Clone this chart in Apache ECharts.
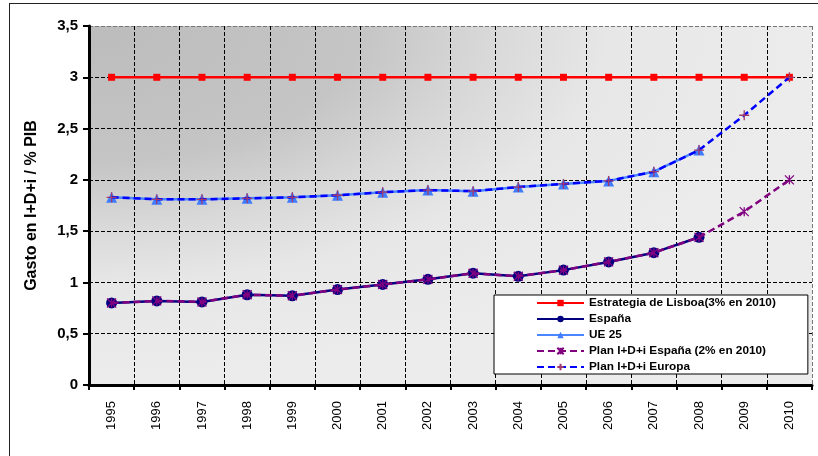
<!DOCTYPE html>
<html>
<head>
<meta charset="utf-8">
<script src="https://cdn.jsdelivr.net/npm/echarts@6/dist/echarts.min.js"></script>
<style>
  html, body { margin: 0; padding: 0; background: #fff; }
  #wrap { position: relative; width: 818px; height: 456px; overflow: hidden; }
  #frame { position: absolute; left: 9px; top: 3px; width: 900px; height: 600px;
           border-left: 1.5px solid #222; border-top: 1.5px solid #222; }
  #plotbg { position: absolute; left: 89px; top: 26px; width: 723px; height: 359px;
            background: radial-gradient(ellipse 100% 100% at 0 0, #bcbcbc 0%, #c5c5c5 38%, #d8d8d8 55%, #e7e7e7 72%, #ececec 100%); }
  #chart { position: absolute; left: 0; top: 0; width: 818px; height: 456px; }
</style>
</head>
<body>
<div id="wrap">
  <div id="frame"></div>
  <div id="plotbg"></div>
  <div id="chart"></div>
</div>
<script>
// Gasto en I+D+i como % del PIB, 1995-2010
const years = ['1995','1996','1997','1998','1999','2000','2001','2002','2003','2004','2005','2006','2007','2008','2009','2010'];

const lisboa      = [3, 3, 3, 3, 3, 3, 3, 3, 3, 3, 3, 3, 3, 3, 3, 3];
const espana      = [0.80, 0.82, 0.81, 0.88, 0.87, 0.93, 0.98, 1.03, 1.09, 1.06, 1.12, 1.20, 1.29, 1.44, null, null];
const ue25        = [1.83, 1.81, 1.81, 1.82, 1.83, 1.85, 1.88, 1.90, 1.89, 1.93, 1.96, 1.99, 2.08, 2.29, null, null];
const planEspana  = [0.80, 0.82, 0.81, 0.88, 0.87, 0.93, 0.98, 1.03, 1.09, 1.06, 1.12, 1.20, 1.29, 1.44, 1.69, 2.00];
const planEuropa  = [1.83, 1.81, 1.81, 1.82, 1.83, 1.85, 1.88, 1.90, 1.89, 1.93, 1.96, 1.99, 2.08, 2.29, 2.63, 3.00];

const names = {
  lisboa: 'Estrategia de Lisboa(3% en 2010)',
  espana: 'España',
  ue25: 'UE 25',
  planEspana: 'Plan I+D+i España (2% en 2010)',
  planEuropa: 'Plan I+D+i Europa'
};

const FONT = 'Liberation Sans, Arial, sans-serif';
const starPath = 'path://M5,0L5,10M0,0L10,10M0,10L10,0';
const plusPath = 'path://M5,0L5,10M0,5L10,5';

// grid lines: black dashed, outer edge of the plot area in grey
const ySplitColors = ['#000','#000','#000','#000','#000','#000','#000','#777'];
const xSplitColors = [];
for (let i = 0; i <= years.length; i++) xSplitColors.push(i === years.length ? '#777' : '#000');

const chart = echarts.init(document.getElementById('chart'), null, { renderer: 'canvas' });

chart.setOption({
  backgroundColor: 'transparent',
  animation: false,
  textStyle: { fontFamily: FONT },
  grid: { left: 89, top: 26, right: 6, bottom: 71, containLabel: false },
  legend: {
    orient: 'vertical',
    left: 494,
    top: 295,
    backgroundColor: '#fff',
    borderColor: '#000',
    borderWidth: 1,
    padding: [1, 32, 0, 42],
    itemWidth: 47,
    itemHeight: 8,
    itemGap: 2,
    selectedMode: false,
    data: [names.lisboa, names.espana, names.ue25, names.planEspana, names.planEuropa],
    textStyle: { fontFamily: FONT, fontWeight: 'bold', fontSize: 11.8, lineHeight: 14, color: '#000' }
  },
  xAxis: {
    type: 'category',
    data: years,
    boundaryGap: true,
    axisLine: { lineStyle: { color: '#000', width: 3 } },
    axisTick: { show: true, length: 5, lineStyle: { color: '#000', width: 2 } },
    axisLabel: { rotate: 90, fontSize: 13, color: '#000', margin: 16, fontFamily: FONT, interval: 0 },
    splitLine: { show: true, interval: 0, lineStyle: { color: xSplitColors, type: [4, 2], width: 1 } }
  },
  yAxis: {
    type: 'value',
    min: 0,
    max: 3.5,
    interval: 0.5,
    name: 'Gasto en I+D+i / % PIB',
    nameLocation: 'middle',
    nameGap: 49,
    nameTextStyle: { fontFamily: FONT, fontWeight: 'bold', fontSize: 16, color: '#000' },
    axisLine: { show: true, lineStyle: { color: '#000', width: 3 } },
    axisTick: { show: true, length: 6, lineStyle: { color: '#000', width: 2 } },
    axisLabel: {
      fontSize: 15, fontWeight: 'bold', color: '#000', margin: 11, fontFamily: FONT,
      formatter: v => String(v).replace('.', ',')
    },
    splitLine: { show: true, lineStyle: { color: ySplitColors, type: [4, 2], width: 1 } }
  },
  series: [
    {
      name: names.lisboa, type: 'line', data: lisboa, z: 2,
      symbol: 'rect', symbolSize: 7,
      lineStyle: { color: '#ff0000', width: 2.5 },
      itemStyle: { color: '#ff0000', borderColor: '#ff0000', borderWidth: 0 }
    },
    {
      name: names.espana, type: 'line', data: espana, z: 3,
      symbol: 'circle', symbolSize: 11,
      lineStyle: { color: '#000080', width: 2.5 },
      itemStyle: { color: '#000080', borderColor: '#000080', borderWidth: 0 }
    },
    {
      name: names.ue25, type: 'line', data: ue25, z: 3,
      symbol: 'triangle', symbolSize: 11,
      lineStyle: { color: '#4a86ff', width: 2.5 },
      itemStyle: { color: '#3f7cff', borderColor: '#3f7cff', borderWidth: 0 }
    },
    {
      name: names.planEspana, type: 'line', data: planEspana, z: 4,
      symbol: starPath, symbolSize: 9,
      lineStyle: { color: '#800080', width: 2.5, type: [7, 4] },
      itemStyle: { color: '#800080', borderColor: '#800080', borderWidth: 1.3 }
    },
    {
      name: names.planEuropa, type: 'line', data: planEuropa, z: 5,
      symbol: plusPath, symbolSize: 10,
      lineStyle: { color: '#0000ff', width: 2.5, type: [7, 4] },
      itemStyle: { color: '#a03a6a', borderColor: '#a03a6a', borderWidth: 1.3 }
    }
  ]
});
</script>
</body>
</html>
